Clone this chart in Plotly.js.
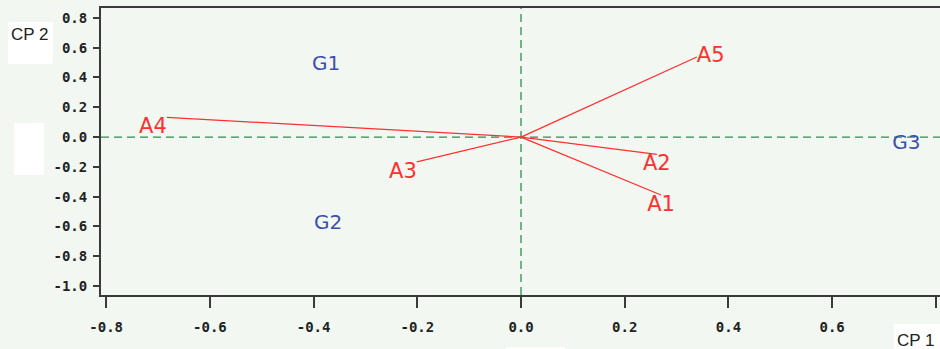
<!DOCTYPE html>
<html>
<head>
<meta charset="utf-8">
<script src="https://cdn.plot.ly/plotly-3.0.1.min.js"></script>
<style>
html,body{margin:0;padding:0;background:#f2f8f1;}
#chart{width:940px;height:349px;}
</style>
</head>
<body>
<div id="chart"></div>
<script>
// ---- data ----
var variables = ['A1', 'A2', 'A3', 'A4', 'A5'];
var cp1 = [0.270, 0.262, -0.201, -0.683, 0.339];
var cp2 = [-0.389, -0.116, -0.166, 0.132, 0.537];

var groups = ['G1', 'G2', 'G3'];
var groupCp1 = [-0.376, -0.372, 0.743];
var groupCp2 = [0.483, -0.584, -0.047];

var xTickVals = [-0.8, -0.6, -0.4, -0.2, 0.0, 0.2, 0.4, 0.6, 0.8];
var yTickVals = [0.8, 0.6, 0.4, 0.2, 0.0, -0.2, -0.4, -0.6, -0.8, -1.0];
var xTickText = xTickVals.map(function (v) { return v.toFixed(1); });
var yTickText = yTickVals.map(function (v) { return v.toFixed(1); });

// ---- styles ----
var labelPositions = ['bottom center', 'bottom center', 'bottom left', 'bottom left', 'middle right'];
var red = '#ff2f2f';
var blue = '#3c4fb0';
var green = '#2e8b4f';
var bg = '#f2f8f1';
var axisColor = '#3a3a3a';

// build segment coordinates from origin
var segX = [], segY = [];
for (var i = 0; i < variables.length; i++) {
  segX.push(0, cp1[i], null);
  segY.push(0, cp2[i], null);
}

var traces = [
  {
    type: 'scatter', mode: 'lines', x: segX, y: segY,
    line: {color: red, width: 1.3}, hoverinfo: 'skip'
  },
  {
    type: 'scatter', mode: 'text', x: cp1, y: cp2, text: variables,
    textposition: labelPositions,
    textfont: {family: 'DejaVu Sans, sans-serif', size: 21, color: red},
    hoverinfo: 'skip'
  },
  {
    type: 'scatter', mode: 'text', x: groupCp1, y: groupCp2, text: groups,
    textposition: 'middle center',
    textfont: {family: 'DejaVu Sans, sans-serif', size: 20, color: blue},
    hoverinfo: 'skip'
  }
];

// pixel helpers for boxes outside the plot area (plot: l=101,t=8,w=839,h=287)
function px(p) { return (p - 101) / 839; }
function py(p) { return (295 - p) / 287; }

var tickFont = {family: 'DejaVu Sans Mono, monospace', size: 14, color: '#222', weight: 'bold'};

var layout = {
  width: 940, height: 349,
  margin: {l: 101, r: 0, t: 8, b: 54},
  paper_bgcolor: bg, plot_bgcolor: bg,
  showlegend: false, hovermode: false,
  xaxis: {
    range: [-0.81, 0.808], tickmode: 'array', tickvals: xTickVals, ticktext: xTickText,
    showgrid: false, zeroline: false,
    showline: true, linecolor: axisColor, linewidth: 2, mirror: true,
    ticks: 'outside', ticklen: 11, tickwidth: 2, tickcolor: axisColor,
    ticklabelstandoff: 7, tickfont: tickFont
  },
  yaxis: {
    range: [-1.060, 0.866], tickmode: 'array', tickvals: yTickVals, ticktext: yTickText,
    showgrid: false, zeroline: false,
    showline: true, linecolor: axisColor, linewidth: 2,
    ticks: 'outside', ticklen: 6, tickwidth: 2, tickcolor: axisColor,
    ticklabelstandoff: 3, tickfont: tickFont
  },
  shapes: [
    {type: 'line', xref: 'x', yref: 'paper', x0: 0, x1: 0, y0: 0, y1: 1, layer: 'below',
     line: {color: green, width: 1.3, dash: '8px,5px'}},
    {type: 'line', xref: 'paper', yref: 'y', x0: 0, x1: 1, y0: 0, y1: 0, layer: 'below',
     line: {color: green, width: 1.3, dash: '8px,5px'}},
    {type: 'rect', xref: 'paper', yref: 'paper', x0: px(8), x1: px(53), y0: py(64), y1: py(22),
     fillcolor: '#ffffff', line: {width: 0}},
    {type: 'rect', xref: 'paper', yref: 'paper', x0: px(14), x1: px(44), y0: py(175), y1: py(123),
     fillcolor: '#ffffff', line: {width: 0}},
    {type: 'rect', xref: 'paper', yref: 'paper', x0: px(894), x1: px(940), y0: py(350), y1: py(324),
     fillcolor: '#ffffff', line: {width: 0}},
    {type: 'rect', xref: 'paper', yref: 'paper', x0: px(506), x1: px(565), y0: py(350), y1: py(347),
     fillcolor: '#ffffff', line: {width: 0}}
  ],
  annotations: [
    {xref: 'paper', yref: 'paper', x: px(9), y: py(34), xanchor: 'left', yanchor: 'middle',
     text: 'CP 2', showarrow: false,
     font: {family: 'Liberation Sans, Arial, sans-serif', size: 17, color: '#222'}},
    {xref: 'paper', yref: 'paper', x: px(895), y: py(340), xanchor: 'left', yanchor: 'middle',
     text: 'CP 1', showarrow: false,
     font: {family: 'Liberation Sans, Arial, sans-serif', size: 17, color: '#222'}}
  ]
};

Plotly.newPlot('chart', traces, layout, {displayModeBar: false, staticPlot: true});
</script>
</body>
</html>
